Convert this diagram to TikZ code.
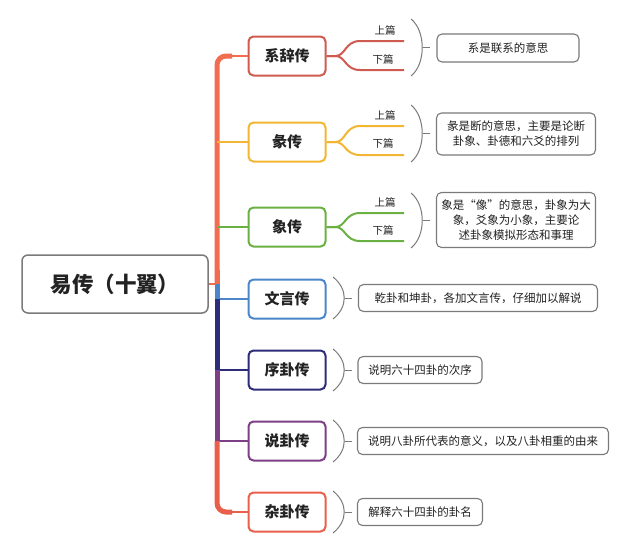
\documentclass[tikz,border=0pt]{standalone}
\usepackage{fontspec}
\setmainfont{Noto Sans CJK SC}
\definecolor{trunkC}{HTML}{F26C4F}
\definecolor{redC}{HTML}{CF5A50}
\definecolor{yelC}{HTML}{F2B632}
\definecolor{grnC}{HTML}{6BB043}
\definecolor{bluC}{HTML}{4A86C8}
\definecolor{navC}{HTML}{2E2C78}
\definecolor{purC}{HTML}{7D3F86}
\definecolor{corC}{HTML}{E8604C}
\definecolor{grayC}{HTML}{7A7A7A}
\definecolor{txtC}{HTML}{222222}
\begin{document}
\begin{tikzpicture}[x=1pt,y=-1pt,
  rootbox/.style={draw=grayC, line width=1.5pt, rounded corners=6pt, fill=white,
    minimum width=186pt, minimum height=58pt, text=txtC,
    font=\bfseries\fontsize{21.5}{24}\selectfont},
  branchbox/.style={draw=#1, line width=2pt, rounded corners=5pt, fill=white,
    minimum width=77pt, minimum height=39pt, text=txtC,
    font=\bfseries\fontsize{15}{17}\selectfont},
  notebox/.style={draw=grayC, line width=1.1pt, rounded corners=5pt, fill=white,
    align=center, text=txtC, inner sep=2pt, font=\fontsize{11.5}{15}\selectfont},
  partlabel/.style={text=txtC, inner sep=0pt, font=\fontsize{10.5}{12}\selectfont},
  trunkline/.style={line width=5pt, #1},
  branchline/.style={line width=2.5pt, #1},
  forkline/.style={line width=2pt, #1},
  brack/.style={draw=grayC, line width=1pt}
]
\useasboundingbox (0,0) rectangle (630,552);

% root
\node[rootbox] (root) at (115,284) {易传（十翼）};
\coordinate (J) at (217,284);

% branch boxes
\node[branchbox=redC] (b1) at (287,56) {系辞传};
\node[branchbox=yelC] (b2) at (287,142) {彖传};
\node[branchbox=grnC] (b3) at (287,227) {象传};
\node[branchbox=bluC] (b4) at (287,299) {文言传};
\node[branchbox=navC] (b5) at (287,370) {序卦传};
\node[branchbox=purC] (b6) at (287,441) {说卦传};
\node[branchbox=corC] (b7) at (287,512) {杂卦传};

% trunk
\coordinate (t1) at (217,56);
\coordinate (t2) at (217,142);
\coordinate (t3) at (217,227);
\coordinate (t4) at (217,299);
\coordinate (t5) at (217,370);
\coordinate (t6) at (217,441);
\coordinate (t7) at (217,512);
\draw[branchline=trunkC] (root.east) -- (J);
\draw[trunkline=trunkC, rounded corners=9pt] (J) -- (t1) -- (232,56);
\draw[branchline=trunkC] (226,56) -- (b1.west);
\draw[branchline=yelC] (t2) -- (b2.west);
\draw[branchline=grnC] (t3) -- (b3.west);
\draw[trunkline=bluC] (J) -- (t4);
\draw[branchline=bluC] (t4) -- (b4.west);
\draw[trunkline=navC] (t4) -- (t5);
\draw[branchline=navC] (t5) -- (b5.west);
\draw[trunkline=purC] (t5) -- (t6);
\draw[branchline=purC] (t6) -- (b6.west);
\draw[trunkline=corC, rounded corners=9pt] (t6) -- (t7) -- (232,512);
\draw[branchline=corC] (226,512) -- (b7.west);
\draw[trunkline=trunkC] (217,270) -- (J);

% forks
\foreach \b/\c/\yu/\yl in {b1/redC/41/70, b2/yelC/126/155, b3/grnC/213/241}{
  \coordinate (\b u) at (404,\yu);
  \coordinate (\b l) at (404,\yl);
  \draw[forkline=\c] (\b.east) -- ++(9,0) .. controls +(10,0) and (345,\yu) .. (360,\yu) -- (\b u);
  \draw[forkline=\c] (\b.east) -- ++(9,0) .. controls +(10,0) and (345,\yl) .. (360,\yl) -- (\b l);
}
\node[partlabel] (u1) at (385,30) {上篇};
\node[partlabel] (l1) at (383,59) {下篇};
\node[partlabel] (u2) at (385,115) {上篇};
\node[partlabel] (l2) at (383,143) {下篇};
\node[partlabel] (u3) at (385,202) {上篇};
\node[partlabel] (l3) at (383,230) {下篇};

% notes
\node[notebox, minimum width=142pt, minimum height=28pt] (n1) at (508,48) {系是联系的意思};
\node[notebox, minimum width=159pt, minimum height=42pt] (n2) at (516,134) {彖是断的意思，主要是论断\\卦象、卦德和六爻的排列};
\node[notebox, minimum width=159pt, minimum height=55pt] (n3) at (516,220) {象是“像”的意思，卦象为大\\象，爻象为小象，主要论\\述卦象模拟形态和事理};
\node[notebox, minimum width=239pt, minimum height=27pt] (n4) at (478,298) {乾卦和坤卦，各加文言传，仔细加以解说};
\node[notebox, minimum width=124pt, minimum height=27pt] (n5) at (420,370) {说明六十四卦的次序};
\node[notebox, minimum width=251pt, minimum height=27pt] (n6) at (483,441) {说明八卦所代表的意义，以及八卦相重的由来};
\node[notebox, minimum width=125pt, minimum height=27pt] (n7) at (420,512) {解释六十四卦的卦名};

% brackets
\foreach \n/\x/\yt/\yb in {n1/411/19/76, n2/411/105/162, n3/411/193/248,
                           n4/333/277/319, n5/333/349/391, n6/333/420/462, n7/333/491/533}{
  \draw[brack] (\x,\yt) .. controls (\x+15,\yt+12) and (\x+15,\yb-12) .. (\x,\yb);
  \coordinate (\n tick) at (\x+11.5,{(\yt+\yb)/2});
  \draw[brack] (\n tick) -- ++(7,0);
}
\end{tikzpicture}
\end{document}
